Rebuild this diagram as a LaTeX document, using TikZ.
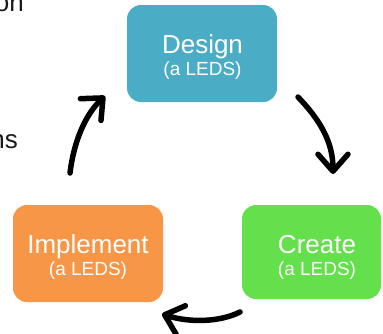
\documentclass[tikz,border=0pt]{standalone}
\usepackage{fontspec}
\setmainfont{Liberation Sans}
\usetikzlibrary{arrows.meta}
\definecolor{designc}{HTML}{4BACC6}
\definecolor{implc}{HTML}{F79646}
\definecolor{createc}{HTML}{64E04C}
\definecolor{darktext}{HTML}{1A1A1A}
\tikzset{
  box/.style={rounded corners=14pt, inner sep=0pt, anchor=north west},
  title/.style={text=white, font=\fontsize{26}{30}\selectfont, anchor=base, inner sep=0pt},
  sub/.style={text=white, font=\fontsize{19}{22}\selectfont, anchor=base, inner sep=0pt},
  side/.style={text=darktext, font=\fontsize{26}{30}\selectfont, anchor=base east, inner sep=0pt},
  cyc/.style={line width=5.5pt, line cap=round, line join=round,
    -{Straight Barb[length=17pt,width=30pt,line cap=round,line join=round]}}
}
\begin{document}
\begin{tikzpicture}[x=1pt,y=-1pt]
\useasboundingbox (0,0) rectangle (383,333);
% partial side texts
\node[side] (t1) at (24,11) {on};
\node[side] (t2) at (18,148) {ns};
% boxes
\fill[designc, rounded corners=14pt] (127,5) rectangle (277,102);
\node[box, minimum width=150pt, minimum height=97pt] (design) at (127,5) {};
\fill[implc, rounded corners=14pt] (13,205) rectangle (163,302);
\node[box, minimum width=150pt, minimum height=97pt] (impl) at (13,205) {};
\fill[createc, rounded corners=14pt] (242,205) rectangle (381,299);
\node[box, minimum width=139pt, minimum height=94pt] (create) at (242,205) {};
% texts
\node[title] (dt) at (202.5,53) {Design};
\node[sub] (ds) at (202.5,75) {(a LEDS)};
\node[title] (it) at (88,253) {Implement};
\node[sub] (is) at (88,275) {(a LEDS)};
\node[title] (ct) at (317,253) {Create};
\node[sub] (cs) at (317,275) {(a LEDS)};
% arrow end points
\coordinate (a1s) at (70,173);
\coordinate (a1e) at (105,96);
\coordinate (a2s) at (298,97);
\coordinate (a2e) at (333,174);
\coordinate (a3s) at (240,312);
\coordinate (a3e) at (162,314);
\draw[cyc] (a1s) .. controls (74,140) and (86,114) .. (a1e);
\draw[cyc] (a2s) .. controls (318,118) and (333,140) .. (a2e);
\draw[cyc] (a3s) .. controls (220,322) and (190,323) .. (a3e);
\end{tikzpicture}
\end{document}
